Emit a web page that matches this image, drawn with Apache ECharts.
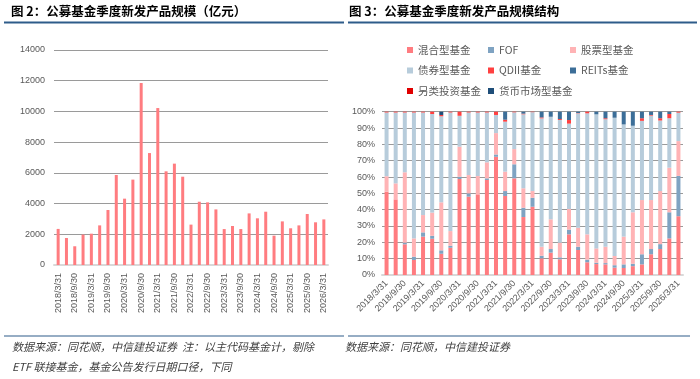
<!DOCTYPE html>
<html>
<head>
<meta charset="utf-8">
<script src="https://cdn.jsdelivr.net/npm/echarts@6/dist/echarts.min.js"></script>
<style>
html,body{margin:0;padding:0;background:#fff;}
#c{width:700px;height:379px;}
</style>
</head>
<body>
<div id="c"></div>
<script>
const categories = ['2018/3/31','2018/6/30','2018/9/30','2018/12/31','2019/3/31','2019/6/30','2019/9/30','2019/12/31','2020/3/31','2020/6/30','2020/9/30','2020/12/31','2021/3/31','2021/6/30','2021/9/30','2021/12/31','2022/3/31','2022/6/30','2022/9/30','2022/12/31','2023/3/31','2023/6/30','2023/9/30','2023/12/31','2024/3/31','2024/6/30','2024/9/30','2024/12/31','2025/3/31','2025/6/30','2025/9/30','2025/12/31','2026/3/31'];

// 图2 公募基金季度新发产品规模（亿元）
const scaleValues = [2350,1760,1220,1980,2040,2580,3580,5860,4320,5560,11850,7290,10220,6100,6600,5750,2630,4120,4080,3620,2340,2540,2340,3360,3040,3470,1910,2840,2390,2580,3320,2780,2970];

// 图3 结构（%）
const hunhe  = [51,46.3,18.8,9.2,23.5,22.2,13,16.7,58.8,48,49.4,58.2,72.4,48.4,59.2,35.5,41.8,10.2,13.7,9.6,24.9,15.3,7.8,6.7,6.5,4.5,4.3,5.4,6.5,12.7,15.9,22.4,36];
const fof    = [0,0,1,2,2.6,1.8,2.1,1.2,1.4,2,0,1,1.4,3,8.6,5.7,5.5,1.6,2.2,1.2,2.9,2,1.6,0.8,0.8,1.5,2.2,1.5,6.2,3.2,3,16,24.7];
const gupiao = [9.5,9.8,43.1,11.2,10.6,14.2,29.4,9,18.4,11.2,11.2,9.8,13.1,11.9,9.3,11.9,4.1,5.5,18.2,9,12.6,11.6,15.5,8.8,10,5.6,17,31.5,33.2,30,32.5,27.3,21.3];
const zhaiquan = [39,43.4,36.6,77.1,62.8,60.4,52.7,72.6,18.9,38.3,38.9,30.5,11.1,30.6,22.5,45.3,48.3,78.6,62.8,75.1,52.3,70.1,74.1,82.1,78.1,84.7,68.7,53,48.5,51.7,43.2,30.3,17.4];
const qdii   = [0.5,0.5,0.5,0.5,0.5,1.4,0.8,0.5,2.5,0.5,0.5,0.5,2,1.2,0.4,0.4,0.3,0.6,0,0.6,2.2,0.2,1,0,0.6,0,0,0,1.6,0.4,1.4,2.6,0.6];
const reits  = [0,0,0,0,0,0,0,0,0,0,0,0,0,4.9,0,1.2,0,3.5,3.1,4.5,5.1,0.8,0,1.6,4,3.7,7.8,8.6,4,2,4,1.4,0];
const linglei = [0,0,0,0,0,0,0,0,0,0,0,0,0,0,0,0,0,0,0,0,0,0,0,0,0,0,0,0,0,0,0,0,0];
const huobi  = [0,0,0,0,0,0,2,0,0,0,0,0,0,0,0,0,0,0,0,0,0,0,0,0,0,0,0,0,0,0,0,0,0];

const yTicksLeft = {min:0, max:14000, interval:2000};
const yTicksRight = {min:0, max:100, interval:10};

const seriesNames = ['混合型基金','FOF','股票型基金','债券型基金','QDII基金','REITs基金','另类投资基金','货币市场型基金'];
const seriesData = [hunhe, fof, gupiao, zhaiquan, qdii, reits, linglei, huobi];
const seriesColors = ['#FF7C80','#7FA3C2','#FFB3B5','#B7CCDB','#FF4040','#3C6E98','#E00000','#1F4E79'];

const FONT = 'Liberation Sans, Arial, sans-serif';
const CJK = '"Noto Sans CJK SC", sans-serif';
const labelColor = '#595959';

const chart = echarts.init(document.getElementById('c'), null, {renderer:'canvas'});

const stackSeries = seriesNames.map((n,i)=>({
  name:n, type:'bar', stack:'total', xAxisIndex:1, yAxisIndex:1,
  barWidth:4, data:seriesData[i], itemStyle:{color:seriesColors[i]},
  emphasis:{disabled:true}
}));

function legendCol(left, names){
  return {
    orient:'vertical', left:left, top:39, itemWidth:6, itemHeight:6, itemGap:8.5,
    icon:'rect', selectedMode:false, data:names,
    textStyle:{fontSize:10.5, color:labelColor, fontFamily:CJK, lineHeight:12}
  };
}

const option = {
  animation:false,
  textStyle:{fontFamily:FONT},
  legend:[
    legendCol(402, ['混合型基金','债券型基金','另类投资基金']),
    legendCol(483, ['FOF','QDII基金','货币市场型基金']),
    legendCol(565, ['股票型基金','REITs基金'])
  ],
  grid:[
    {left:54, right:372, top:50, bottom:114},
    {left:382, right:17, top:111.7, bottom:104}
  ],
  xAxis:[
    {type:'category', gridIndex:0, data:categories,
     axisLine:{lineStyle:{color:'#D9D9D9', width:2}}, axisTick:{show:false},
     axisLabel:{interval:1, rotate:90, fontSize:9, color:labelColor, margin:8, fontFamily:FONT}},
    {type:'category', gridIndex:1, data:categories,
     axisLine:{lineStyle:{color:'#D9D9D9', width:2}}, axisTick:{show:false},
     axisLabel:{interval:1, rotate:45, fontSize:9, color:labelColor, margin:7, fontFamily:FONT}}
  ],
  yAxis:[
    {type:'value', gridIndex:0, min:yTicksLeft.min, max:yTicksLeft.max, interval:yTicksLeft.interval,
     axisLine:{show:false}, axisTick:{show:false},
     axisLabel:{fontSize:9, color:labelColor, margin:9, fontFamily:FONT, formatter:function(v){return String(v);}},
     splitLine:{lineStyle:{color:'#9A9A9A', width:1}}},
    {type:'value', gridIndex:1, min:yTicksRight.min, max:yTicksRight.max, interval:yTicksRight.interval,
     axisLine:{show:false}, axisTick:{show:false},
     axisLabel:{fontSize:9, color:labelColor, margin:7, fontFamily:FONT, formatter:'{value}%'},
     splitLine:{lineStyle:{color:'#9A9A9A', width:1}}}
  ],
  series:[
    {name:'规模', type:'bar', xAxisIndex:0, yAxisIndex:0, barWidth:3, data:scaleValues,
     itemStyle:{color:'#FF7C80'}, emphasis:{disabled:true}}
  ].concat(stackSeries),
  graphic:[
    {type:'text', left:11, top:5, style:{text:'图 2：公募基金季度新发产品规模（亿元）', font:'bold 12.5px "Noto Sans CJK SC", sans-serif', fill:'#000'}},
    {type:'text', left:349, top:5, style:{text:'图 3：公募基金季度新发产品规模结构', font:'bold 12.5px "Noto Sans CJK SC", sans-serif', fill:'#000'}},
    {type:'line', shape:{x1:4, y1:22.5, x2:344, y2:22.5}, style:{stroke:'#2E5C8A', lineWidth:2}},
    {type:'line', shape:{x1:348, y1:22.5, x2:697, y2:22.5}, style:{stroke:'#2E5C8A', lineWidth:2}},
    {type:'line', shape:{x1:4, y1:336, x2:344, y2:336}, style:{stroke:'#2E5C8A', lineWidth:1.2}},
    {type:'line', shape:{x1:348, y1:336, x2:690, y2:336}, style:{stroke:'#2E5C8A', lineWidth:1.2}},
    {type:'text', left:12, top:341, style:{text:'数据来源：同花顺，中信建投证券  注：以主代码基金计，剔除', font:'italic 11px "Noto Sans CJK SC", sans-serif', fill:'#404040'}},
    {type:'text', left:12, top:361, style:{text:'ETF 联接基金，基金公告发行日期口径，下同', font:'italic 11px "Noto Sans CJK SC", sans-serif', fill:'#404040'}},
    {type:'text', left:345, top:341, style:{text:'数据来源：同花顺，中信建投证券', font:'italic 11px "Noto Sans CJK SC", sans-serif', fill:'#404040'}}
  ]
};
chart.setOption(option);
</script>
</body>
</html>
